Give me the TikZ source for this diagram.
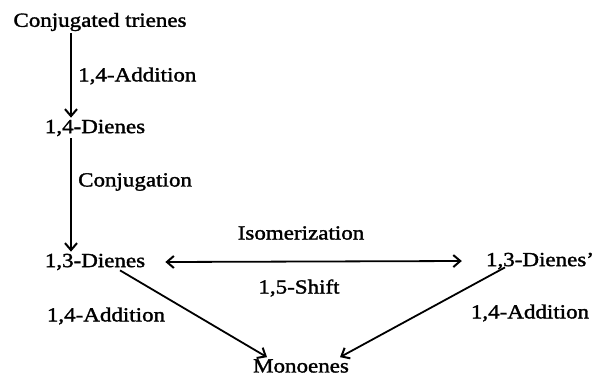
\documentclass[tikz,border=0pt]{standalone}
\usepackage{fontspec}
\setmainfont{Liberation Serif}[FakeStretch=1.15, FakeBold=1.6]
\usetikzlibrary{arrows.meta}

\begin{document}
\begin{tikzpicture}[x=1pt,y=-1pt, >={Straight Barb[length=7pt,width=12pt,line width=2pt]}]
\tikzstyle{every node}+=[inner sep=2pt, font=\fontsize{20}{22}\selectfont]
\tikzstyle{react}=[line width=1.8pt]
\useasboundingbox (0,0) rectangle (595,376);
\node (trienes) at (100,22) {Conjugated trienes};
\node (dienesA) at (95,128) {1,4-Dienes};
\node (dienesB) at (95,262) {1,3-Dienes};
\node (dienesC) at (540,261) {1,3-Dienes'};
\node (monoenes) at (301,366) {Monoenes};
\node [anchor=west] (addA) at (76,76) {1,4-Addition};
\node [anchor=west] (conj) at (76,182) {Conjugation};
\node (isom) at (301,233) {Isomerization};
\node (shift) at (299,288) {1,5-Shift};
\node (addB) at (106,316) {1,4-Addition};
\node (addC) at (530,313) {1,4-Addition};
\draw [react, ->] ([xshift=-29pt]trienes.south) -- ([xshift=-24pt]dienesA.north);
\draw [react, ->] ([xshift=-24pt]dienesA.south) -- ([xshift=-24pt]dienesB.north);
\draw [react, <->] ([xshift=18pt]dienesB.east) -- ([xshift=-22pt]dienesC.west);
\draw [react, ->] ([xshift=25pt,yshift=2pt]dienesB.south) -- ([xshift=-34pt]monoenes.north);
\draw [react, ->] ([xshift=-35pt,yshift=4pt]dienesC.south) -- ([xshift=39pt]monoenes.north);
\end{tikzpicture}
\end{document}
